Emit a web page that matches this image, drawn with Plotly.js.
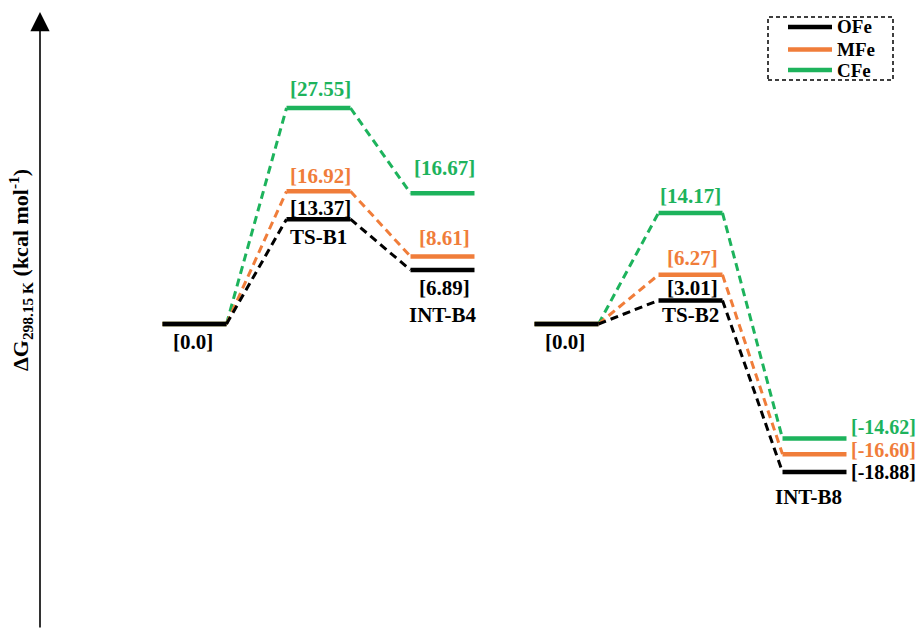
<!DOCTYPE html>
<html>
<head>
<meta charset="utf-8">
<script src="https://cdn.plot.ly/plotly-3.0.1.min.js"></script>
<style>html,body{margin:0;padding:0;background:#fff;}#chart{width:919px;height:629px;}</style>
</head>
<body>
<div id="chart"></div>
<script>
// ---- data ----
const stages = ['R1', 'TS-B1', 'INT-B4', 'R2', 'TS-B2', 'INT-B8'];
const stageNames = ['', 'TS-B1', 'INT-B4', '', 'TS-B2', 'INT-B8'];
const seriesNames = ['OFe', 'MFe', 'CFe'];
const OFe = [0.0, 13.37, 6.89, 0.0, 3.01, -18.88];
const MFe = [0.0, 16.92, 8.61, 0.0, 6.27, -16.60];
const CFe = [0.0, 27.55, 16.67, 0.0, 14.17, -14.62];
const labelsOFe = ['[0.0]', '[13.37]', '[6.89]', '[0.0]', '[3.01]', '[-18.88]'];
const labelsMFe = ['', '[16.92]', '[8.61]', '', '[6.27]', '[-16.60]'];
const labelsCFe = ['', '[27.55]', '[16.67]', '', '[14.17]', '[-14.62]'];
const connections = [[0, 1], [1, 2], [3, 4], [4, 5]];

// ---- styles / layout ----
const colors = {OFe: '#000000', MFe: '#f07d3a', CFe: '#1db35c'};
const values = {OFe: OFe, MFe: MFe, CFe: CFe};
const labels = {OFe: labelsOFe, MFe: labelsMFe, CFe: labelsCFe};
const hw = 0.258; // half width of a level (x units)
const FONT = 'Liberation Serif';
// label offsets [xshift, yshift, xanchor, size] per series per stage
const offs = {
  OFe: [[-2, -18, 'center', 21], [2, 11, 'center', 21], [2, -18, 'center', 21], [-2, -18, 'center', 21], [2, 12, 'center', 21], [3, 0, 'left', 20]],
  MFe: [null, [2, 15, 'center', 21], [2, 19, 'center', 21], null, [2, 17, 'center', 21], [3, 4, 'left', 20]],
  CFe: [null, [2, 19, 'center', 21], [2, 25, 'center', 21], null, [0, 17, 'center', 21], [3, 12, 'left', 20]]
};
const nameOffs = [null, [0, -18], [0, -45], null, [0, -15], [-6, -25]];

const traces = [];
const annotations = [];
const shapes = [];
['CFe', 'MFe', 'OFe'].forEach(function (s) {
  const v = values[s];
  const lx = [], ly = [];
  v.forEach(function (e, i) { lx.push(i - hw, i + hw, null); ly.push(e, e, null); });
  const cx = [], cy = [];
  connections.forEach(function (c) { cx.push(c[0] + hw, c[1] - hw, null); cy.push(v[c[0]], v[c[1]], null); });
  traces.push({x: cx, y: cy, mode: 'lines', line: {color: colors[s], width: 3, dash: '8px,5px'}, showlegend: false, hoverinfo: 'skip'});
  traces.push({x: lx, y: ly, mode: 'lines', name: s, line: {color: colors[s], width: 4.5}, showlegend: false, hoverinfo: 'skip'});
  labels[s].forEach(function (t, i) {
    if (!t) return;
    const o = offs[s][i];
    annotations.push({x: o[2] === 'left' ? i + hw : i, y: v[i], xref: 'x', yref: 'y', text: t, showarrow: false,
      xanchor: o[2], yanchor: 'middle', xshift: o[0], yshift: o[1],
      font: {family: FONT, size: o[3], color: colors[s], weight: 'bold'}});
  });
});
stageNames.forEach(function (n, i) {
  if (!n) return;
  const o = nameOffs[i];
  annotations.push({x: i, y: OFe[i], xref: 'x', yref: 'y', text: n, showarrow: false,
    xanchor: 'center', yanchor: 'middle', xshift: o[0], yshift: o[1], font: {family: FONT, size: 21, color: '#000', weight: 'bold'}});
});
// manual legend (series names and colours)
const legY = [27, 49.5, 70];
seriesNames.forEach(function (s, k) {
  shapes.push({type: 'line', xref: 'paper', yref: 'paper', x0: 788 / 919, x1: 832 / 919, y0: 1 - legY[k] / 629, y1: 1 - legY[k] / 629,
    line: {color: colors[s], width: 4.5}});
  annotations.push({x: 835 / 919, y: 1 - legY[k] / 629, xref: 'paper', yref: 'paper', text: s, showarrow: false,
    xanchor: 'left', yanchor: 'middle', font: {family: FONT, size: 19, color: '#000', weight: 'bold'}});
});
shapes.push({type: 'rect', xref: 'paper', yref: 'paper', x0: 768 / 919, x1: 893 / 919, y0: 1 - 80 / 629, y1: 1 - 17 / 629,
  line: {color: '#000', width: 1.5, dash: '4px,3px'}});
// y axis arrow
annotations.push({x: 40 / 919, y: 1 - 12 / 629, xref: 'paper', yref: 'paper', ax: 0, ay: 620, axref: 'pixel', ayref: 'pixel',
  text: '', showarrow: true, arrowhead: 2, arrowsize: 2.4, arrowwidth: 1.6, arrowcolor: '#000', standoff: 0, startstandoff: 0});
// y axis title
annotations.push({x: 20 / 919, y: 1 - 270 / 629, xref: 'paper', yref: 'paper', textangle: -90, showarrow: false,
  text: 'ΔG<sub>298.15 K</sub> (kcal mol<sup>-1</sup>)', font: {family: FONT, size: 22, color: '#000', weight: 'bold'},
  xanchor: 'center', yanchor: 'middle'});

const layout = {
  width: 919, height: 629,
  margin: {l: 0, r: 0, t: 0, b: 0},
  paper_bgcolor: '#fff', plot_bgcolor: '#fff',
  xaxis: {range: [-194.5 / 124, (919 - 194.5) / 124], visible: false, fixedrange: true},
  yaxis: {range: [-305 / 7.84, 324 / 7.84], visible: false, fixedrange: true},
  showlegend: false,
  shapes: shapes,
  annotations: annotations
};
Plotly.newPlot('chart', traces, layout, {staticPlot: true});
</script>
</body>
</html>
